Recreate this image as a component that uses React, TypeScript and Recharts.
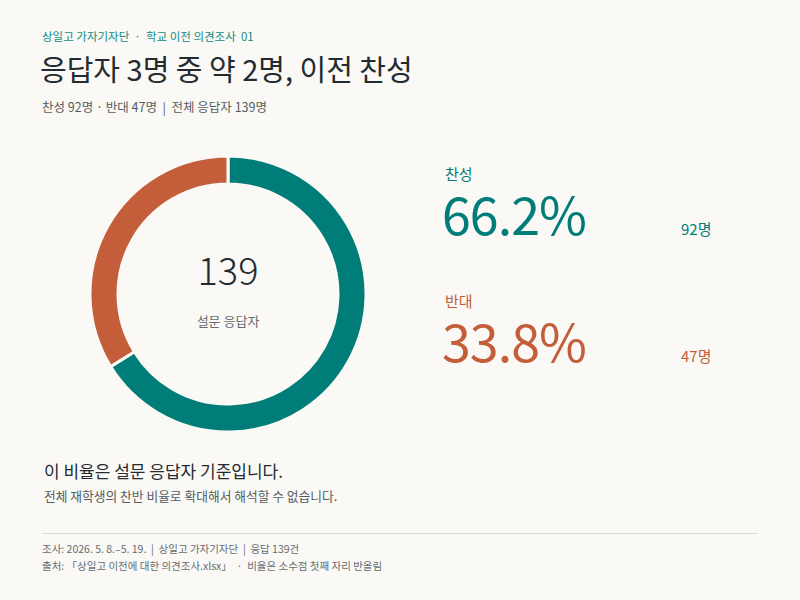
import React from "react";
import { PieChart, Pie, Cell } from "recharts";

const categories = ["찬성", "반대"];
const counts = [92, 47];
const colors = ["#007d78", "#c45e3a"];
const total = 139;

const BG = "#faf9f6";
const FONT = '"Noto Sans CJK KR", "Noto Sans", sans-serif';

const pieData = categories.map((name, i) => ({ name, value: counts[i] }));

function pct(v: number) {
  return ((v / total) * 100).toFixed(1) + "%";
}

export default function App() {
  return (
    <div
      style={{
        position: "absolute",
        left: 0,
        top: 0,
        width: 800,
        height: 600,
        background: BG,
        fontFamily: FONT,
        color: "#222a2e",
        overflow: "hidden",
      }}
    >
      <div style={{ position: "absolute", left: 42, top: 28, fontSize: 11.5, color: "#0f8a84", whiteSpace: "pre" }}>
        {"상일고 가자기자단  ·  학교 이전 의견조사  01"}
      </div>
      <div style={{ position: "absolute", left: 40, top: 47, fontSize: 29, color: "#232b30" }}>
        응답자 3명 중 약 2명, 이전 찬성
      </div>
      <div style={{ position: "absolute", left: 42, top: 97, fontSize: 12.5, color: "#555c60", whiteSpace: "pre" }}>
        {"찬성 92명 · 반대 47명  |  전체 응답자 139명"}
      </div>

      <div style={{ position: "absolute", left: 73, top: 139 }}>
        <PieChart width={310} height={310}>
          <Pie
            data={pieData}
            dataKey="value"
            nameKey="name"
            cx={150}
            cy={150}
            innerRadius={110}
            outerRadius={138}
            startAngle={90}
            endAngle={-270}
            stroke={BG}
            strokeWidth={3}
            isAnimationActive={false}
          >
            {pieData.map((d, i) => (
              <Cell key={d.name} fill={colors[i]} />
            ))}
          </Pie>
        </PieChart>
      </div>
      <div
        style={{
          position: "absolute",
          left: 128,
          top: 250,
          width: 200,
          textAlign: "center",
          fontSize: 38,
          lineHeight: 1,
          fontWeight: 300,
          color: "#232b30",
        }}
      >
        {total}
      </div>
      <div
        style={{
          position: "absolute",
          left: 128,
          top: 311,
          width: 200,
          textAlign: "center",
          fontSize: 13,
          color: "#666c70",
        }}
      >
        설문 응답자
      </div>

      {categories.map((c, i) => (
        <React.Fragment key={c}>
          <div
            style={{
              position: "absolute",
              left: 445,
              top: 166 + i * 127,
              fontSize: 15,
              lineHeight: 1,
              color: colors[i],
            }}
          >
            {c}
          </div>
          <div
            style={{
              position: "absolute",
              left: 442,
              top: 187 + i * 127,
              fontSize: 52,
              lineHeight: 1,
              fontWeight: 400,
              color: colors[i],
              letterSpacing: -1,
            }}
          >
            {pct(counts[i])}
          </div>
          <div
            style={{
              position: "absolute",
              left: 681,
              top: 218 + i * 127,
              fontSize: 15,
              color: colors[i],
            }}
          >
            {counts[i]}명
          </div>
        </React.Fragment>
      ))}

      <div style={{ position: "absolute", left: 44, top: 458, fontSize: 17, color: "#232b30" }}>
        이 비율은 설문 응답자 기준입니다.
      </div>
      <div style={{ position: "absolute", left: 44, top: 486, fontSize: 12.75, color: "#555c60" }}>
        전체 재학생의 찬반 비율로 확대해서 해석할 수 없습니다.
      </div>
      <div
        style={{
          position: "absolute",
          left: 42,
          top: 533,
          width: 716,
          height: 1,
          background: "#dddbd6",
        }}
      />
      <div style={{ position: "absolute", left: 42, top: 541, fontSize: 10.5, color: "#666c70", whiteSpace: "pre" }}>
        {"조사: 2026. 5. 8.–5. 19.  |  상일고 가자기자단  |  응답 139건"}
      </div>
      <div style={{ position: "absolute", left: 42, top: 558, fontSize: 10.5, color: "#666c70", whiteSpace: "pre" }}>
        {"출처: 「상일고 이전에 대한 의견조사.xlsx」  ·  비율은 소수점 첫째 자리 반올림"}
      </div>
    </div>
  );
}
